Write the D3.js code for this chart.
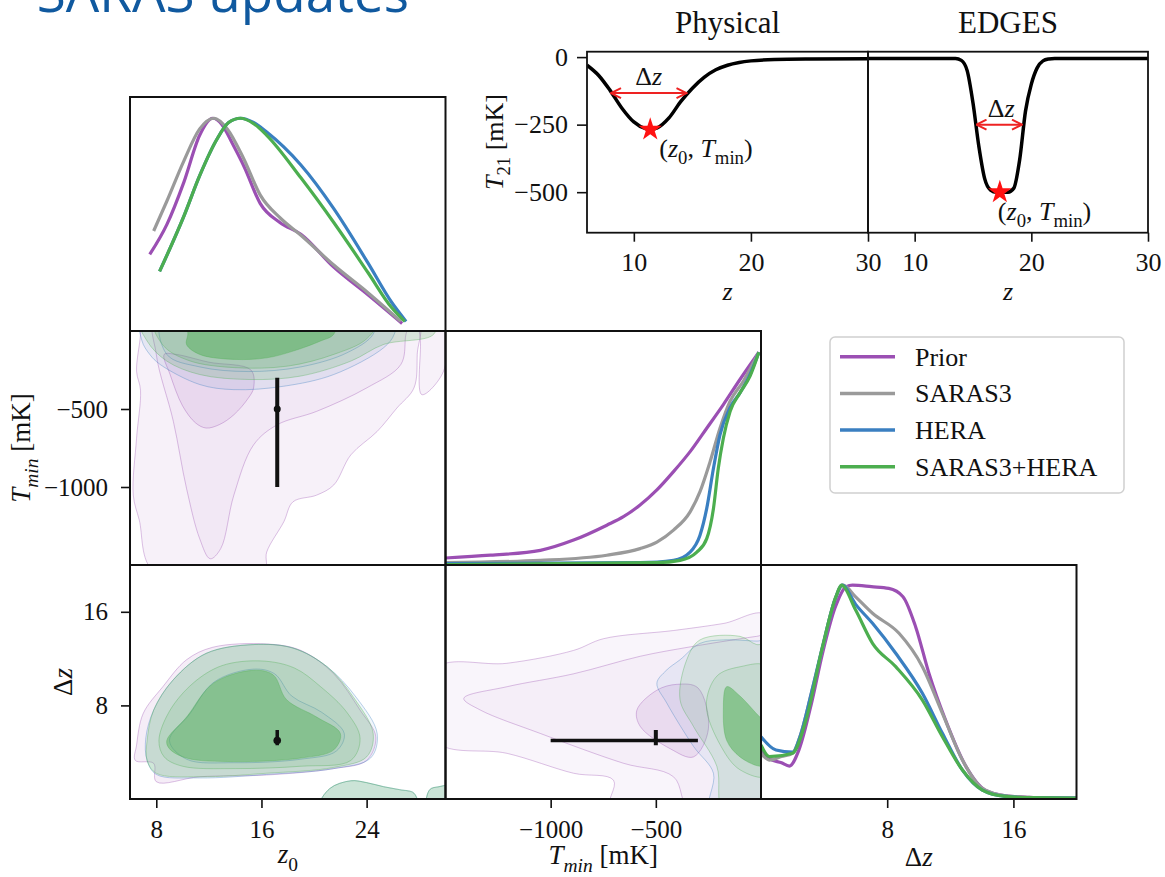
<!DOCTYPE html>
<html><head><meta charset="utf-8">
<script src="https://cdn.jsdelivr.net/npm/d3@7"></script>
<style>body{margin:0;background:#fff;} svg{display:block}</style>
</head><body>
<script>
// ================= DATA =================
const seriesNames = ['Prior', 'SARAS3', 'HERA', 'SARAS3+HERA'];
const seriesColors = ['#9b4fb3', '#9a9a9a', '#3a7fc1', '#4cae4f'];

// inset: example global signals
const physZ = [6, 7, 8, 9, 10, 11, 11.4, 12, 13, 14, 15, 16, 17, 18, 19, 20, 22, 25, 30];
const physT = [-30, -68, -125, -190, -240, -265, -268, -262, -225, -165, -115, -75, -47, -30, -20, -14, -9, -7, -6];
const edgesZ = [6, 13.5, 14, 14.5, 15, 15.5, 16, 16.5, 17, 18, 18.5, 19, 19.5, 20, 20.5, 21, 21.5, 22, 30];
const edgesT = [-5, -5, -12, -50, -170, -330, -450, -492, -500, -500, -485, -380, -200, -100, -40, -14, -7, -5, -5];
const physMin = [11.4, -268];
const edgesMin = [17.3, -500];
const physWidth = [8.05, 14.5, -133];
const edgesWidth = [15.3, 19.2, -250];
const insetXTicks = [10, 20, 30];
const insetYTicks = [0, -250, -500];
const insetZDomain = [6, 30];
const insetTDomain = [-650, 20];

// corner plot domains / ticks
const z0Domain = [6, 30];
const tminDomain = [-1500, 0];
const dzDomain = [0, 20];
const densDomain = [0, 1.1];
const z0Ticks = [8, 16, 24];
const tminTicks = [-1000, -500];
const dzTicks = [8, 16];

// 1D marginals [value, density]
const z0Marg = [
  [[7.5,0.36],[8.8,0.50],[10.1,0.70],[11.3,0.92],[12.3,1.0],[13.0,0.97],[13.8,0.88],[14.7,0.77],[15.9,0.60],[17.4,0.51],[19.0,0.455],[21.5,0.30],[24.1,0.17],[26.7,0.035]],
  [[7.8,0.47],[8.8,0.61],[10.1,0.80],[11.3,0.95],[12.4,1.0],[13.4,0.95],[14.65,0.81],[15.9,0.64],[17.45,0.53],[19.0,0.45],[21.5,0.31],[24.1,0.18],[26.6,0.045]],
  [[8.25,0.28],[10.1,0.54],[11.3,0.73],[12.6,0.90],[13.5,0.98],[14.4,1.0],[15.4,0.98],[16.4,0.935],[19.0,0.78],[21.5,0.575],[24.1,0.32],[25.9,0.135],[27.0,0.045]],
  [[8.25,0.28],[10.1,0.54],[11.3,0.73],[12.6,0.90],[13.5,0.98],[14.4,1.0],[15.4,0.975],[16.4,0.92],[19.0,0.72],[21.5,0.51],[24.1,0.275],[25.9,0.11],[26.9,0.045]]
];
const tminMarg = [
  [[-1500,0.033],[-1286,0.046],[-1049,0.069],[-891,0.117],[-733,0.187],[-654,0.227],[-575,0.282],[-495,0.353],[-416,0.439],[-337,0.533],[-258,0.643],[-179,0.754],[-100,0.872],[-10,1.0]],
  [[-1500,0.011],[-1049,0.022],[-733,0.046],[-575,0.077],[-495,0.108],[-416,0.164],[-337,0.25],[-290,0.345],[-242,0.486],[-195,0.643],[-147,0.77],[-84,0.864],[-10,1.0]],
  [[-1500,0.006],[-575,0.011],[-416,0.022],[-337,0.061],[-290,0.14],[-258,0.266],[-226,0.455],[-195,0.612],[-147,0.74],[-100,0.809],[-52,0.896],[-10,1.0]],
  [[-1500,0.002],[-495,0.011],[-385,0.022],[-305,0.061],[-258,0.124],[-226,0.266],[-203,0.455],[-179,0.596],[-147,0.722],[-100,0.809],[-52,0.888],[-10,1.0]]
];
const dzMarg = [
  [[0,0.23],[0.53,0.19],[1.3,0.17],[1.8,0.155],[2.4,0.23],[3.2,0.45],[3.9,0.685],[4.7,0.9],[5.4,0.998],[5.8,1.005],[7.0,0.998],[8.1,0.99],[9.0,0.951],[9.8,0.81],[10.65,0.59],[11.7,0.371],[13.0,0.152],[14.2,0.042],[15.5,0.015],[17,0.008],[20,0.004]],
  [[0,0.215],[0.53,0.183],[1.3,0.2],[2.0,0.215],[2.5,0.3],[3.2,0.5],[3.9,0.71],[4.7,0.94],[5.2,1.005],[6.0,0.95],[7.07,0.873],[8.75,0.779],[10.23,0.622],[11.5,0.403],[12.77,0.183],[14.03,0.05],[15.5,0.015],[17,0.008],[20,0.004]],
  [[0,0.293],[0.95,0.23],[2.0,0.22],[2.5,0.3],[3.2,0.5],[3.9,0.716],[4.7,0.94],[5.15,1.005],[6.0,0.915],[7.07,0.826],[8.54,0.685],[10.23,0.497],[11.5,0.309],[12.77,0.136],[14.03,0.042],[15.5,0.012],[17,0.006],[20,0.004]],
  [[0,0.254],[0.53,0.199],[2.0,0.215],[2.85,0.371],[3.9,0.716],[4.75,0.951],[5.1,1.005],[6.0,0.888],[7.07,0.732],[8.54,0.622],[10.23,0.465],[11.5,0.293],[12.77,0.136],[14.03,0.042],[15.5,0.012],[17,0.006],[20,0.004]]
];

// 2D contours: (z0, Tmin)
const ztPriorOuter = [[6.8,100],[6.8,-20],[6.5,-258],[6.8,-380],[6.5,-687],[6.25,-1052],[6.7,-1210],[7.8,-1540],[16.2,-1540],[16.4,-1417],[17.7,-1223],[18.4,-1095],[20.2,-1052],[21.5,-987],[22.8,-794],[24.8,-644],[26.3,-494],[27.6,-365],[27.85,-150],[27.8,100]];
const ztPriorIsland = [[28.1,100],[28.1,-80],[28.2,-408],[29.85,-258],[29.9,100]];
const ztPriorMid = [[8.0,100],[8.0,-150],[9.3,-580],[10.3,-1009],[11.3,-1331],[12.1,-1460],[12.9,-1395],[13.9,-1052],[15.4,-730],[17.2,-601],[20.2,-515],[24.0,-365],[26.6,-215],[26.95,-43],[27,100]];
const ztPriorCore = [[8.6,-150],[9.05,-279],[10.0,-480],[11.0,-590],[11.8,-622],[12.8,-600],[13.9,-537],[15.0,-430],[15.4,-365],[15.2,-250],[12,-200],[9.5,-150]];
const ztHeraOuter = [[6.9,100],[6.9,-60],[7.5,-150],[8.3,-215],[11.3,-343],[13.9,-376],[17.7,-354],[21.5,-279],[25.3,-107],[26.1,-21],[26.2,100]];
const ztHeraMid = [[8.5,100],[8.8,-150],[11.3,-230],[15,-260],[19,-230],[22.5,-140],[24.5,-20],[24.6,100]];
const ztJointOuter = [[6.7,100],[7.3,-64],[8.8,-193],[11.3,-279],[15.1,-311],[18.9,-290],[22.8,-193],[25.3,-86],[29.1,-21],[29.2,100]];
const ztJointMid = [[7.8,100],[8.5,-90],[10.5,-190],[14,-235],[18,-225],[21.5,-150],[24,-50],[25,100]];
const ztJointCore = [[10.4,100],[10.4,-21],[10.3,-86],[11.3,-150],[13.9,-182],[16.4,-172],[18.4,-129],[20.5,-64],[21.5,-21],[21.6,100]];

// 2D contours: (z0, Δz)
const zdPriorOuter = [[6.5,4.6],[7.0,7.3],[8.5,9.6],[10.3,11.9],[12.3,12.97],[16.4,13.25],[19.0,12.7],[21.5,10.7],[23.5,7.6],[24.7,5.3],[24.0,3.3],[21.5,2.6],[16.4,2.05],[11.3,1.9],[8.0,1.48],[7.8,3.05],[6.4,3.3]];
const zdHeraOuter = [[7.2,5.2],[7.8,7.6],[9.3,10.2],[11.8,12.45],[15.4,13.2],[18.4,12.9],[21.0,11.3],[23.2,8.7],[24.8,5.6],[24.3,3.5],[21.5,2.6],[16.4,2.1],[11.3,1.8],[8.0,2.1],[7.3,3.3]];
const zdHeraInner = [[9,5],[10.5,7.2],[12.4,10.0],[15.4,11.1],[17,10.7],[18.3,8.8],[20.6,7.4],[22.3,5.6],[21.7,4.1],[19,3.4],[14,3.1],[10.3,3.4]];
const zdJointOuter = [[7.3,5.0],[7.8,7.6],[9.3,10.2],[11.8,12.45],[15.4,13.2],[18.4,12.9],[21.0,11.3],[23.0,8.7],[24.5,5.6],[24.0,3.6],[21.5,2.7],[16.4,2.2],[11.3,1.9],[8.0,2.2],[7.3,3.3]];
const zdJointMid = [[8.2,5.0],[9.0,7.5],[10.8,9.9],[13,11.4],[16,11.8],[18.5,11.2],[20.5,9.6],[22.5,7.4],[23.5,5.2],[22.8,3.3],[19,2.8],[14,2.6],[10,2.8],[8.6,3.6]];
const zdJointCore = [[8.8,5.0],[10.3,7.0],[12.35,9.9],[15.4,11.0],[16.9,10.6],[17.9,8.5],[20.2,7.0],[22.0,5.6],[21.5,4.2],[19.0,3.5],[13.9,3.2],[10.3,3.5],[9.0,4.3]];
const zdIslandA = [[20.5,-0.5],[21.2,0.9],[22.8,1.56],[24,1.4],[25.3,1.05],[26.5,0.8],[27.6,0.5],[27.8,-0.5]];
const zdIslandB = [[28.6,-0.5],[28.8,0.8],[29.5,1.05],[30.3,1.1],[30.3,-0.5]];

// 2D contours: (Tmin, Δz)
const tdPriorOuter = [[-1540,11.2],[-1207,11.6],[-891,12.7],[-749,13.7],[-416,14.4],[-179,15.0],[30,15.7],[30,-1],[-717,-1],[-701,1.6],[-891,2.2],[-1207,3.9],[-1540,4.9]];
const tdPriorMid = [[-1413,8.6],[-1207,9.6],[-891,10.7],[-574,12.2],[-337,13.0],[-21,13.9],[30,14],[30,-1],[-337,-1],[-416,1.9],[-653,3.05],[-1049,5.6],[-1334,7.6]];
const tdPriorCore = [[-590,7.6],[-495,9.3],[-400,9.8],[-300,9.5],[-250,6],[-321,3.6],[-432,4.3],[-574,6.2]];
const tdHeraOuter = [[-385,11.9],[-290,13.3],[-179,13.6],[-21,13.5],[30,13.5],[30,-1],[-242,-1],[-226,2.2],[-321,4.5],[-448,8.2],[-495,9.9],[-450,11]];
const tdJointOuter = [[-385,8.5],[-353,11.9],[-290,13.6],[-100,13.9],[-21,13.2],[30,13.2],[30,-1],[-179,-1],[-210,2.8],[-321,6.2]];
const tdJointMid = [[-260,8],[-210,10.5],[-100,11.3],[30,11.3],[30,2],[-100,2.5],[-190,4.5]];
const tdJointCore = [[-179,7.6],[-163,9.6],[-100,8.8],[-5,7.0],[30,6.5],[30,3],[-5,2.8],[-100,3.6],[-163,5.0]];

// observed constraint (error bars)
const obsZ0 = 17.2;
const obsTmin = [-1000, -500, -300];   // low, central, high
const obsDz = [4.6, 5.0, 5.9];

// ================= DRAW =================
const SERIF = "'Liberation Serif','Times New Roman',serif";
const svg = d3.select('body').append('svg').attr('width', 1165).attr('height', 877);
const defs = svg.append('defs');

function mtext(g, x, y, parts, size, opts = {}) {
  const t = g.append('text').attr('x', x).attr('y', y)
    .attr('font-family', SERIF).attr('font-size', size)
    .attr('text-anchor', opts.anchor || 'middle').attr('fill', '#111');
  if (opts.rotate) t.attr('transform', `rotate(-90,${x},${y})`);
  let shift = 0;
  parts.forEach(p => {
    const ts = t.append('tspan').text(p.t);
    if (p.i) ts.attr('font-style', 'italic');
    const target = p.sub ? size * 0.28 : 0;
    if (target !== shift) { ts.attr('dy', target - shift); shift = target; }
    if (p.sub) ts.attr('font-size', size * 0.72);
  });
  return t;
}

// ---- title (cut off at top) ----
svg.append('text').attr('x', 409).attr('y', 12).attr('text-anchor', 'end')
  .attr('font-family', "'Open Sans',sans-serif").attr('font-size', 53)
  .attr('fill', '#10599f').text('SARAS updates');

// ---- inset ----
const inset = svg.append('g');
const iy = d3.scaleLinear().domain(insetTDomain).range([232.7, 51.7]);
const ixP = d3.scaleLinear().domain(insetZDomain).range([587, 868]);
const ixE = d3.scaleLinear().domain(insetZDomain).range([868, 1148]);

defs.append('marker').attr('id', 'ah').attr('viewBox', '0 0 12 12')
  .attr('refX', 11).attr('refY', 6).attr('markerWidth', 12).attr('markerHeight', 12)
  .attr('markerUnits', 'userSpaceOnUse').attr('orient', 'auto-start-reverse')
  .append('path').attr('d', 'M1,1 L11,6 L1,11').attr('fill', 'none')
  .attr('stroke', '#ee2222').attr('stroke-width', 2);

function styleAxis(g, size) {
  g.attr('font-family', SERIF).attr('font-size', size);
  g.select('.domain').remove();
  g.selectAll('.tick line').attr('stroke', '#111').attr('stroke-width', 1.6);
  g.selectAll('.tick text').attr('fill', '#111');
}

[[ixP, physZ, physT, physMin, physWidth, 'Physical'], [ixE, edgesZ, edgesT, edgesMin, edgesWidth, 'EDGES']].forEach(([ix, zs, ts, mn, wd, name], k) => {
  const cid = 'iclip' + k;
  defs.append('clipPath').attr('id', cid).append('rect')
    .attr('x', ix.range()[0]).attr('y', 51.7).attr('width', ix.range()[1] - ix.range()[0]).attr('height', 181);
  const line = d3.line().x((d, i) => ix(zs[i])).y((d, i) => iy(ts[i])).curve(d3.curveMonotoneX);
  inset.append('path').datum(zs).attr('d', line).attr('fill', 'none')
    .attr('stroke', '#000').attr('stroke-width', 3.5).attr('clip-path', `url(#${cid})`);
  inset.append('line').attr('x1', ix(wd[0])).attr('x2', ix(wd[1])).attr('y1', iy(wd[2])).attr('y2', iy(wd[2]))
    .attr('stroke', '#ee2222').attr('stroke-width', 2)
    .attr('marker-start', 'url(#ah)').attr('marker-end', 'url(#ah)');
  inset.append('path').attr('d', d3.symbol(d3.symbolStar, 170)())
    .attr('transform', `translate(${ix(mn[0])},${iy(mn[1])})`).attr('fill', '#ff1111');
  const ax = inset.append('g').attr('transform', 'translate(0,232.7)')
    .call(d3.axisBottom(ix).tickValues(insetXTicks).tickSize(9).tickPadding(11).tickFormat(d3.format('d')));
  styleAxis(ax, 26);
  inset.append('rect').attr('x', ix.range()[0]).attr('y', 51.7)
    .attr('width', ix.range()[1] - ix.range()[0]).attr('height', 181)
    .attr('fill', 'none').attr('stroke', '#111').attr('stroke-width', 1.8);
  inset.append('text').attr('x', (ix.range()[0] + ix.range()[1]) / 2).attr('y', 33)
    .attr('text-anchor', 'middle').attr('font-family', SERIF).attr('font-size', 31).attr('fill', '#111').text(name);
  mtext(inset, (ix.range()[0] + ix.range()[1]) / 2, 300, [{t: 'z', i: true}], 26);
});
const iya = inset.append('g').attr('transform', 'translate(587,0)')
  .call(d3.axisLeft(iy).tickValues(insetYTicks).tickSize(10).tickPadding(9));
styleAxis(iya, 26);
mtext(inset, 503, 142, [{t: 'T', i: true}, {t: '21', sub: true}, {t: ' [mK]'}], 26, {rotate: true});
mtext(inset, (ixP(physWidth[0]) + ixP(physWidth[1])) / 2, 85, [{t: 'Δ'}, {t: 'z', i: true}], 26);
mtext(inset, (ixE(edgesWidth[0]) + ixE(edgesWidth[1])) / 2 + 2, 117, [{t: 'Δ'}, {t: 'z', i: true}], 26);
mtext(inset, ixP(physMin[0]) + 9, 157, [{t: '('}, {t: 'z', i: true}, {t: '0', sub: true}, {t: ', '}, {t: 'T', i: true}, {t: 'min', sub: true}, {t: ')'}], 26, {anchor: 'start'});
mtext(inset, ixE(edgesMin[0]) - 2, 220, [{t: '('}, {t: 'z', i: true}, {t: '0', sub: true}, {t: ', '}, {t: 'T', i: true}, {t: 'min', sub: true}, {t: ')'}], 26, {anchor: 'start'});

// ---- corner plot ----
const colX = [130, 445.5, 761], colW = 315.5;
const rowY = [97, 331, 565], rowH = 234;
const sx = {
  z0: c => d3.scaleLinear().domain(z0Domain).range([colX[c], colX[c] + colW]),
  tmin: c => d3.scaleLinear().domain(tminDomain).range([colX[c], colX[c] + colW]),
  dz: c => d3.scaleLinear().domain(dzDomain).range([colX[c], colX[c] + colW])
};
const sy = {
  tmin: r => d3.scaleLinear().domain(tminDomain).range([rowY[r] + rowH, rowY[r]]),
  dz: r => d3.scaleLinear().domain(dzDomain).range([rowY[r] + rowH, rowY[r]]),
  dens: r => d3.scaleLinear().domain(densDomain).range([rowY[r] + rowH, rowY[r]])
};
const corner = svg.append('g');
let clipN = 0;
function panel(r, c) {
  const id = 'pc' + (clipN++);
  defs.append('clipPath').attr('id', id).append('rect')
    .attr('x', colX[c]).attr('y', rowY[r]).attr('width', colW).attr('height', rowH);
  return corner.append('g').attr('clip-path', `url(#${id})`);
}
function frame(r, c) {
  corner.append('rect').attr('x', colX[c]).attr('y', rowY[r]).attr('width', colW).attr('height', rowH)
    .attr('fill', 'none').attr('stroke', '#111').attr('stroke-width', 2);
}
function drawMarg(g, x, y, sets) {
  const line = d3.line().x(d => x(d[0])).y(d => y(d[1])).curve(d3.curveMonotoneX);
  sets.forEach((s, i) => {
    g.append('path').datum(s).attr('d', line).attr('fill', 'none')
      .attr('stroke', seriesColors[i]).attr('stroke-width', 3.2).attr('stroke-linejoin', 'round');
  });
}
function drawContours(g, x, y, layers) {
  const area = d3.line().x(d => x(d[0])).y(d => y(d[1])).curve(d3.curveCatmullRomClosed.alpha(0.5));
  layers.forEach(([pts, ci, op]) => {
    g.append('path').datum(pts).attr('d', area)
      .attr('fill', seriesColors[ci]).attr('fill-opacity', op)
      .attr('stroke', seriesColors[ci]).attr('stroke-opacity', 0.35).attr('stroke-width', 1);
  });
}

// (0,0) z0 marginal
drawMarg(panel(0, 0), sx.z0(0), sy.dens(0), z0Marg);
// (1,1) Tmin marginal
drawMarg(panel(1, 1), sx.tmin(1), sy.dens(1), tminMarg);
// (2,2) dz marginal
drawMarg(panel(2, 2), sx.dz(2), sy.dens(2), dzMarg);

// (1,0) z0 vs Tmin
{
  const g = panel(1, 0), x = sx.z0(0), y = sy.tmin(1);
  drawContours(g, x, y, [
    [ztPriorOuter, 0, 0.08], [ztPriorIsland, 0, 0.08], [ztPriorMid, 0, 0.05], [ztPriorCore, 0, 0.1],
    [ztHeraOuter, 2, 0.09], [ztHeraMid, 2, 0.05],
    [ztJointOuter, 3, 0.18], [ztJointMid, 3, 0.18], [ztJointCore, 3, 0.45]
  ]);
  g.append('line').attr('x1', x(obsZ0)).attr('x2', x(obsZ0)).attr('y1', y(obsTmin[0])).attr('y2', y(obsTmin[2]))
    .attr('stroke', '#111').attr('stroke-width', 4);
  g.append('circle').attr('cx', x(obsZ0)).attr('cy', y(obsTmin[1])).attr('r', 3.5).attr('fill', '#111');
}
// (2,0) z0 vs dz
{
  const g = panel(2, 0), x = sx.z0(0), y = sy.dz(2);
  drawContours(g, x, y, [
    [zdPriorOuter, 0, 0.1],
    [zdHeraOuter, 2, 0.07], [zdHeraInner, 2, 0.06], [zdIslandA, 2, 0.1], [zdIslandB, 2, 0.1],
    [zdJointOuter, 3, 0.2], [zdJointMid, 3, 0.12], [zdJointCore, 3, 0.42], [zdIslandA, 3, 0.2], [zdIslandB, 3, 0.2]
  ]);
  g.append('line').attr('x1', x(obsZ0)).attr('x2', x(obsZ0)).attr('y1', y(obsDz[0])).attr('y2', y(obsDz[2]))
    .attr('stroke', '#111').attr('stroke-width', 3.5);
  g.append('circle').attr('cx', x(obsZ0)).attr('cy', y(obsDz[1])).attr('r', 3.8).attr('fill', '#111');
}
// (2,1) Tmin vs dz
{
  const g = panel(2, 1), x = sx.tmin(1), y = sy.dz(2);
  drawContours(g, x, y, [
    [tdPriorOuter, 0, 0.06], [tdPriorMid, 0, 0.04], [tdPriorCore, 0, 0.12],
    [tdHeraOuter, 2, 0.07],
    [tdJointOuter, 3, 0.12], [tdJointMid, 3, 0.1], [tdJointCore, 3, 0.5]
  ]);
  g.append('line').attr('x1', x(obsTmin[0])).attr('x2', x(obsTmin[2])).attr('y1', y(obsDz[1])).attr('y2', y(obsDz[1]))
    .attr('stroke', '#111').attr('stroke-width', 3.5);
  g.append('line').attr('x1', x(obsTmin[1])).attr('x2', x(obsTmin[1])).attr('y1', y(obsDz[0])).attr('y2', y(obsDz[2]))
    .attr('stroke', '#111').attr('stroke-width', 4);
}

[[0,0],[1,0],[1,1],[2,0],[2,1],[2,2]].forEach(([r, c]) => frame(r, c));

// axes
const fmt = d3.format('d');
styleAxis(corner.append('g').attr('transform', `translate(0,${rowY[2] + rowH})`)
  .call(d3.axisBottom(sx.z0(0)).tickValues(z0Ticks).tickSize(9).tickPadding(12).tickFormat(fmt)), 25);
styleAxis(corner.append('g').attr('transform', `translate(0,${rowY[2] + rowH})`)
  .call(d3.axisBottom(sx.tmin(1)).tickValues(tminTicks).tickSize(9).tickPadding(12).tickFormat(fmt)), 25);
styleAxis(corner.append('g').attr('transform', `translate(0,${rowY[2] + rowH})`)
  .call(d3.axisBottom(sx.dz(2)).tickValues(dzTicks).tickSize(9).tickPadding(12).tickFormat(fmt)), 25);
styleAxis(corner.append('g').attr('transform', `translate(${colX[0]},0)`)
  .call(d3.axisLeft(sy.tmin(1)).tickValues(tminTicks).tickSize(9).tickPadding(13).tickFormat(fmt)), 25);
styleAxis(corner.append('g').attr('transform', `translate(${colX[0]},0)`)
  .call(d3.axisLeft(sy.dz(2)).tickValues(dzTicks).tickSize(9).tickPadding(13).tickFormat(fmt)), 25);

mtext(corner, colX[0] + colW / 2, 863, [{t: 'z', i: true}, {t: '0', sub: true}], 27);
mtext(corner, colX[1] + colW / 2, 864, [{t: 'T', i: true}, {t: 'min', sub: true, i: true}, {t: ' [mK]'}], 27);
mtext(corner, colX[2] + colW / 2, 866, [{t: 'Δ'}, {t: 'z', i: true}], 27);
mtext(corner, 30, rowY[1] + rowH / 2, [{t: 'T', i: true}, {t: 'min', sub: true, i: true}, {t: ' [mK]'}], 27, {rotate: true});
mtext(corner, 72, rowY[2] + rowH / 2, [{t: 'Δ'}, {t: 'z', i: true}], 27, {rotate: true});

// legend
const lg = svg.append('g');
lg.append('rect').attr('x', 830).attr('y', 337).attr('width', 294).attr('height', 156).attr('rx', 5)
  .attr('fill', '#fff').attr('fill-opacity', 0.85).attr('stroke', '#d0d0d0').attr('stroke-width', 1.5);
seriesNames.forEach((n, i) => {
  const yy = 356.7 + i * 36.7;
  lg.append('line').attr('x1', 840).attr('x2', 895).attr('y1', yy).attr('y2', yy)
    .attr('stroke', seriesColors[i]).attr('stroke-width', 3.5);
  lg.append('text').attr('x', 915).attr('y', yy + 9).attr('font-family', SERIF).attr('font-size', 26)
    .attr('fill', '#111').text(n);
});
</script>
</body></html>
